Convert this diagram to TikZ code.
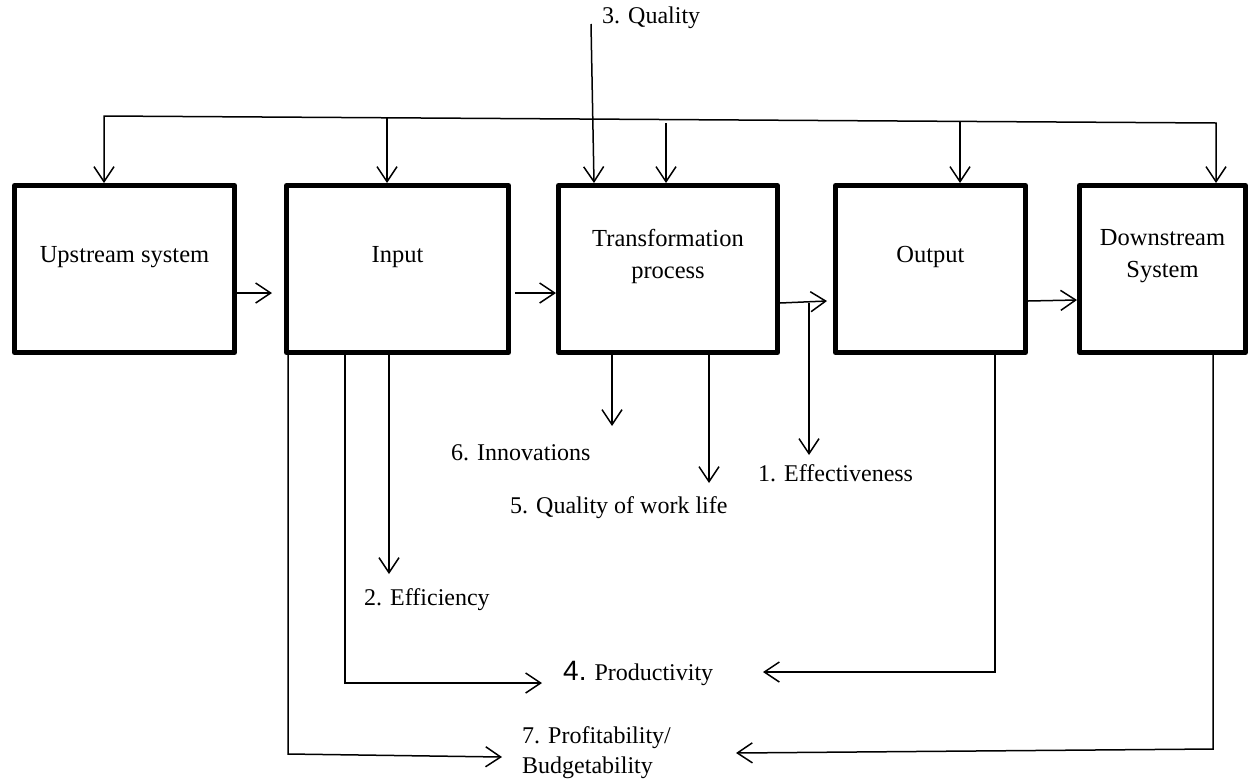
\documentclass[tikz,border=0pt]{standalone}
\usepackage{fontspec}
\setmainfont{Liberation Serif}
\setsansfont{Liberation Sans}
\usetikzlibrary{arrows.meta}
\tikzset{
  blk/.style={draw, line width=5pt, line join=round, inner sep=0pt},
  txt/.style={inner sep=0pt, align=center, font=\fontsize{24.5}{32}\selectfont},
  lbl/.style={inner sep=0pt, anchor=west, align=left, font=\fontsize{24}{30}\selectfont},
  barb/.tip={Straight Barb[length=15pt,width=20pt,line width=1.5pt]},
  arr/.style={line width=1.5pt, -barb},
  arrb/.style={line width=1.5pt, barb-barb}
}
\begin{document}
\begin{tikzpicture}[x=1pt,y=-1pt]
\useasboundingbox (0,0) rectangle (1253,780);
% the five boxes
\node[blk, minimum width=220pt, minimum height=167pt] (up) at (124.5,269) {};
\node[blk, minimum width=222pt, minimum height=167pt] (inp) at (397.5,269) {};
\node[blk, minimum width=219pt, minimum height=167pt] (trf) at (668,269) {};
\node[blk, minimum width=190pt, minimum height=167pt] (out) at (930.5,269) {};
\node[blk, minimum width=166pt, minimum height=167pt] (dwn) at (1162.5,269) {};
\node[txt] (upT) at ([yshift=12pt]up.center) {Upstream system};
\node[txt] (inpT) at ([yshift=12pt]inp.center) {Input};
\node[txt] (trfT) at ([yshift=12.5pt]trf.center) {Transformation\\process};
\node[txt] (outT) at ([yshift=12pt]out.center) {Output};
\node[txt] (dwnT) at ([yshift=12.5pt]dwn.center) {Downstream\\System};
% labels
\node[lbl] (qual) at (602,18) {3. Quality};
\node[lbl] (inno) at (451,453) {6. Innovations};
\node[lbl] (qwl) at (510,508) {5. Quality of work life};
\node[lbl] (eff) at (758,473) {1. Effectiveness};
\node[lbl] (effc) at (364,600) {2. Efficiency};
\node[lbl] (prod) at (563,673) {{\sffamily\fontsize{28}{30}\selectfont 4.} Productivity};
\node[lbl] (prof) at (522,753) {7. Profitability/\\Budgetability};
% top feedback line
\coordinate (busL) at (104,116);
\coordinate (busR) at (1216,123);
\draw[arrb] (up.north -| busL) -- (busL) -- (busR) -- (dwn.north -| busR);
\coordinate (b2) at (387,118);
\coordinate (b3) at (666,123);
\coordinate (b4) at (960,121.5);
\draw[arr] (b2) -- (inp.north -| b2);
\draw[arr] (b3) -- (trf.north -| b3);
\draw[arr] (b4) -- (out.north -| b4);
\coordinate (qS) at (591,24);
\draw[arr] (qS) -- ([xshift=3pt]trf.north -| qS);
% flow between boxes
\draw[arr] ([yshift=-24pt]up.east) -- ([yshift=-24pt,xshift=-12pt]inp.west);
\draw[arr] ([yshift=-24pt,xshift=4pt]inp.east) -- ([yshift=-24pt]trf.west);
\draw[arr] ([yshift=-34pt]trf.east) -- ([yshift=-32pt,xshift=-6pt]out.west);
\draw[arr] ([yshift=-32pt]out.east) -- ([yshift=-31pt]dwn.west);
% outputs below
\coordinate (innT) at (612,426);
\coordinate (qwlT) at (709,483);
\coordinate (effS) at (809,303);
\coordinate (effT) at (809,455);
\coordinate (effcT) at (389,574);
\draw[arr] (trf.south -| innT) -- (innT);
\draw[arr] (trf.south -| qwlT) -- (qwlT);
\draw[arr] (effS) -- (effT);
\draw[arr] (inp.south -| effcT) -- (effcT);
% productivity
\coordinate (pL) at (345,683);
\coordinate (pLT) at (542,683);
\coordinate (pR) at (995,672);
\coordinate (pRT) at (763,672);
\draw[arr] (inp.south -| pL) -- (pL) -- (pLT);
\draw[arr] (out.south -| pR) -- (pR) -- (pRT);
% profitability
\coordinate (fL) at (288,754);
\coordinate (fLT) at (502,757);
\coordinate (fR) at (1213,749);
\coordinate (fRT) at (736,753);
\draw[arr] (inp.south -| fL) -- (fL) -- (fLT);
\draw[arr] (dwn.south -| fR) -- (fR) -- (fRT);
\end{tikzpicture}
\end{document}
